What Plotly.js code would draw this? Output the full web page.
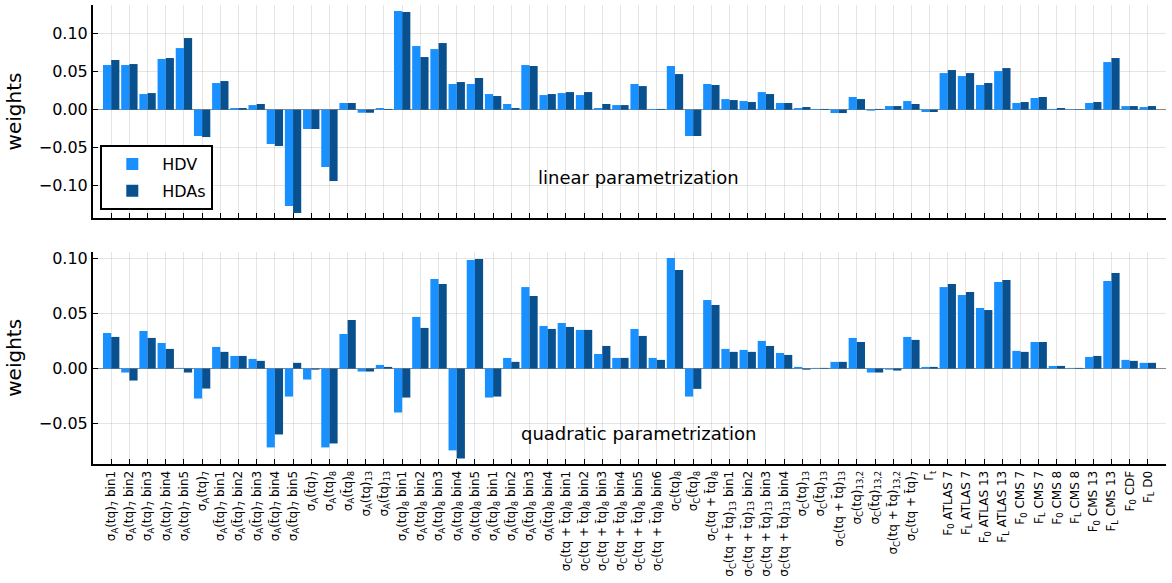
<!DOCTYPE html>
<html>
<head>
<meta charset="utf-8">
<script src="https://cdn.plot.ly/plotly-3.0.1.min.js"></script>
<style>html,body{margin:0;padding:0;background:#fff;}#chart{width:1172px;height:583px;}</style>
</head>
<body>
<div id="chart"></div>
<script>
const labels = [
"σ<sub>A</sub>(tq)<sub>7</sub> bin1","σ<sub>A</sub>(tq)<sub>7</sub> bin2","σ<sub>A</sub>(tq)<sub>7</sub> bin3","σ<sub>A</sub>(tq)<sub>7</sub> bin4","σ<sub>A</sub>(tq)<sub>7</sub> bin5",
"σ<sub>A</sub>(tq)<sub>7</sub>",
"σ<sub>A</sub>(t̄q)<sub>7</sub> bin1","σ<sub>A</sub>(t̄q)<sub>7</sub> bin2","σ<sub>A</sub>(t̄q)<sub>7</sub> bin3","σ<sub>A</sub>(t̄q)<sub>7</sub> bin4","σ<sub>A</sub>(t̄q)<sub>7</sub> bin5",
"σ<sub>A</sub>(t̄q)<sub>7</sub>","σ<sub>A</sub>(tq)<sub>8</sub>","σ<sub>A</sub>(t̄q)<sub>8</sub>","σ<sub>A</sub>(tq)<sub>13</sub>","σ<sub>A</sub>(t̄q)<sub>13</sub>",
"σ<sub>A</sub>(tq)<sub>8</sub> bin1","σ<sub>A</sub>(tq)<sub>8</sub> bin2","σ<sub>A</sub>(tq)<sub>8</sub> bin3","σ<sub>A</sub>(tq)<sub>8</sub> bin4","σ<sub>A</sub>(tq)<sub>8</sub> bin5",
"σ<sub>A</sub>(t̄q)<sub>8</sub> bin1","σ<sub>A</sub>(t̄q)<sub>8</sub> bin2","σ<sub>A</sub>(t̄q)<sub>8</sub> bin3","σ<sub>A</sub>(t̄q)<sub>8</sub> bin4",
"σ<sub>C</sub>(tq + t̄q)<sub>8</sub> bin1","σ<sub>C</sub>(tq + t̄q)<sub>8</sub> bin2","σ<sub>C</sub>(tq + t̄q)<sub>8</sub> bin3","σ<sub>C</sub>(tq + t̄q)<sub>8</sub> bin4","σ<sub>C</sub>(tq + t̄q)<sub>8</sub> bin5","σ<sub>C</sub>(tq + t̄q)<sub>8</sub> bin6",
"σ<sub>C</sub>(tq)<sub>8</sub>","σ<sub>C</sub>(t̄q)<sub>8</sub>","σ<sub>C</sub>(tq + t̄q)<sub>8</sub>",
"σ<sub>C</sub>(tq + t̄q)<sub>13</sub> bin1","σ<sub>C</sub>(tq + t̄q)<sub>13</sub> bin2","σ<sub>C</sub>(tq + t̄q)<sub>13</sub> bin3","σ<sub>C</sub>(tq + t̄q)<sub>13</sub> bin4",
"σ<sub>C</sub>(tq)<sub>13</sub>","σ<sub>C</sub>(t̄q)<sub>13</sub>","σ<sub>C</sub>(tq + t̄q)<sub>13</sub>",
"σ<sub>C</sub>(tq)<sub>13,2</sub>","σ<sub>C</sub>(t̄q)<sub>13,2</sub>","σ<sub>C</sub>(tq + t̄q)<sub>13,2</sub>","σ<sub>C</sub>(tq + t̄q)<sub>7</sub>",
"Γ<sub>t</sub>",
"F<sub>0</sub> ATLAS 7","F<sub>L</sub> ATLAS 7","F<sub>0</sub> ATLAS 13","F<sub>L</sub> ATLAS 13",
"F<sub>0</sub> CMS 7","F<sub>L</sub> CMS 7","F<sub>0</sub> CMS 8","F<sub>L</sub> CMS 8","F<sub>0</sub> CMS 13","F<sub>L</sub> CMS 13",
"F<sub>0</sub> CDF","F<sub>L</sub> D0"
];

const seriesNames = ["HDV", "HDAs"];

const linearHDV = [0.0588,0.0588,0.0206,0.0667,0.0811,-0.0346,0.0351,0.0022,0.0061,-0.0452,
 -0.1268,-0.0254,-0.0754,0.0088,-0.004,0.0022,0.1298,0.0838,0.0798,0.0338,
 0.0338,0.0206,0.0075,0.0588,0.0193,0.0219,0.0193,0.0022,0.0061,0.0338,
 0.001,0.0575,-0.0346,0.0338,0.014,0.0114,0.0232,0.0088,0.0022,0.001,
 -0.0044,0.0167,-0.0013,0.0048,0.0114,-0.003,0.0482,0.0443,0.0325,0.0509,
 0.0088,0.0154,0.001,0.0005,0.0088,0.0627,0.0048,0.0035];
const linearHDAs = [0.0654,0.0601,0.0219,0.068,0.0943,-0.036,0.0377,0.0022,0.0075,-0.0478,
 -0.136,-0.0254,-0.0939,0.0088,-0.004,0.001,0.1285,0.0693,0.0877,0.0364,
 0.0417,0.018,0.0022,0.0575,0.0206,0.0232,0.0232,0.0075,0.0061,0.0311,
 0.001,0.0469,-0.0346,0.0325,0.0127,0.0101,0.0206,0.0088,0.0035,0.001,
 -0.0044,0.014,0.001,0.0048,0.0075,-0.003,0.0522,0.0482,0.0351,0.0548,
 0.0101,0.0167,0.0022,0.0005,0.0101,0.068,0.0048,0.0048];
const quadHDV = [0.0324,-0.0036,0.0342,0.0233,0.0006,-0.0273,0.0197,0.0115,0.0088,-0.0718,
 -0.0255,-0.01,-0.0718,0.0315,-0.0027,0.0033,-0.04,0.047,0.0815,-0.0745,
 0.0988,-0.0264,0.0097,0.0742,0.0388,0.0415,0.0352,0.0133,0.0097,0.0361,
 0.0097,0.1006,-0.0255,0.0624,0.0179,0.017,0.0252,0.0142,0.0015,0.0006,
 0.0061,0.0279,-0.0036,-0.001,0.0288,0.0015,0.0742,0.067,0.0552,0.0788,
 0.0161,0.0242,0.0024,0.0006,0.0106,0.0797,0.0079,0.0052];
const quadHDAs = [0.0288,-0.0109,0.0279,0.0179,-0.0036,-0.0182,0.0152,0.0115,0.007,-0.06,
 0.0052,-0.001,-0.0682,0.0442,-0.0027,0.0015,-0.0264,0.037,0.077,-0.0818,
 0.0997,-0.0255,0.0061,0.0661,0.0361,0.0379,0.0352,0.0206,0.0097,0.0297,
 0.0079,0.0897,-0.0185,0.0579,0.0152,0.0152,0.0206,0.0124,-0.001,0.0006,
 0.0061,0.0242,-0.0036,-0.0018,0.0261,0.0015,0.077,0.0697,0.0533,0.0806,
 0.0152,0.0242,0.0024,0.0006,0.0115,0.087,0.007,0.0052];

const idx = labels.map((_, i) => i);
const C1 = "rgb(24,144,255)", C2 = "rgb(8,80,142)";
const FONT = "DejaVu Sans, sans-serif";

const data = [
  {type:"bar", x:idx, y:linearHDV, name:seriesNames[0], marker:{color:C1, line:{width:0}}, xaxis:"x", yaxis:"y", legendgroup:"a", showlegend:true},
  {type:"bar", x:idx, y:linearHDAs, name:seriesNames[1], marker:{color:C2, line:{width:0}}, xaxis:"x", yaxis:"y", legendgroup:"b", showlegend:true},
  {type:"bar", x:idx, y:quadHDV, name:seriesNames[0], marker:{color:C1, line:{width:0}}, xaxis:"x2", yaxis:"y2", legendgroup:"a", showlegend:false},
  {type:"bar", x:idx, y:quadHDAs, name:seriesNames[1], marker:{color:C2, line:{width:0}}, xaxis:"x2", yaxis:"y2", legendgroup:"b", showlegend:false}
];

const gridc = "rgba(0,0,0,0.1)";
const xcommon = {
  range:[-1, 58], tickvals:idx, ticktext:labels, ticks:"inside", ticklen:5, tickcolor:"#000", tickwidth:1,
  showline:true, linecolor:"#000", linewidth:2, showgrid:true, gridcolor:gridc, gridwidth:1,
  zeroline:false, fixedrange:true
};
const ycommon = {
  ticks:"inside", ticklen:5, tickcolor:"#000", showline:true, linecolor:"#000", linewidth:2,
  showgrid:true, gridcolor:gridc, gridwidth:1, zeroline:true, zerolinecolor:"#888", zerolinewidth:1.5,
  tickformat:".2f", tickfont:{size:16, family:FONT, color:"#000"},
  title:{text:"weights", font:{size:20, family:FONT, color:"#000"}, standoff:12}
};

const layout = {
  width:1172, height:583,
  margin:{l:93, r:6, t:5, b:119},
  paper_bgcolor:"#fff", plot_bgcolor:"#fff",
  font:{family:FONT, color:"#000"},
  barmode:"group", bargap:0.1, bargroupgap:0,
  xaxis:Object.assign({}, xcommon, {anchor:"y", domain:[0,1], showticklabels:false}),
  xaxis2:Object.assign({}, xcommon, {anchor:"y2", domain:[0,1], tickangle:-90, tickfont:{size:12, family:FONT, color:"#000"}}),
  yaxis:Object.assign({}, ycommon, {anchor:"x", domain:[0.536,1], range:[-0.1425,0.1378], tickvals:[-0.10,-0.05,0,0.05,0.10]}),
  yaxis2:Object.assign({}, ycommon, {anchor:"x2", domain:[0,0.4625], range:[-0.0869,0.1064], tickvals:[-0.05,0,0.05,0.10]}),
  legend:{x:0.0068, y:0.695, xanchor:"left", yanchor:"top", bgcolor:"#fff", bordercolor:"#000", borderwidth:2,
    font:{size:16, family:FONT, color:"#000"}, itemwidth:50, tracegroupgap:3},
  annotations:[
    {text:"linear parametrization", xref:"paper", yref:"y", x:0.508, y:-0.0886, showarrow:false, font:{size:18, family:FONT, color:"#000"}},
    {text:"quadratic parametrization", xref:"paper", yref:"y2", x:0.508, y:-0.0587, showarrow:false, font:{size:18, family:FONT, color:"#000"}}
  ],
  showlegend:true
};

Plotly.newPlot("chart", data, layout, {displayModeBar:false, staticPlot:true});
</script>
</body>
</html>
